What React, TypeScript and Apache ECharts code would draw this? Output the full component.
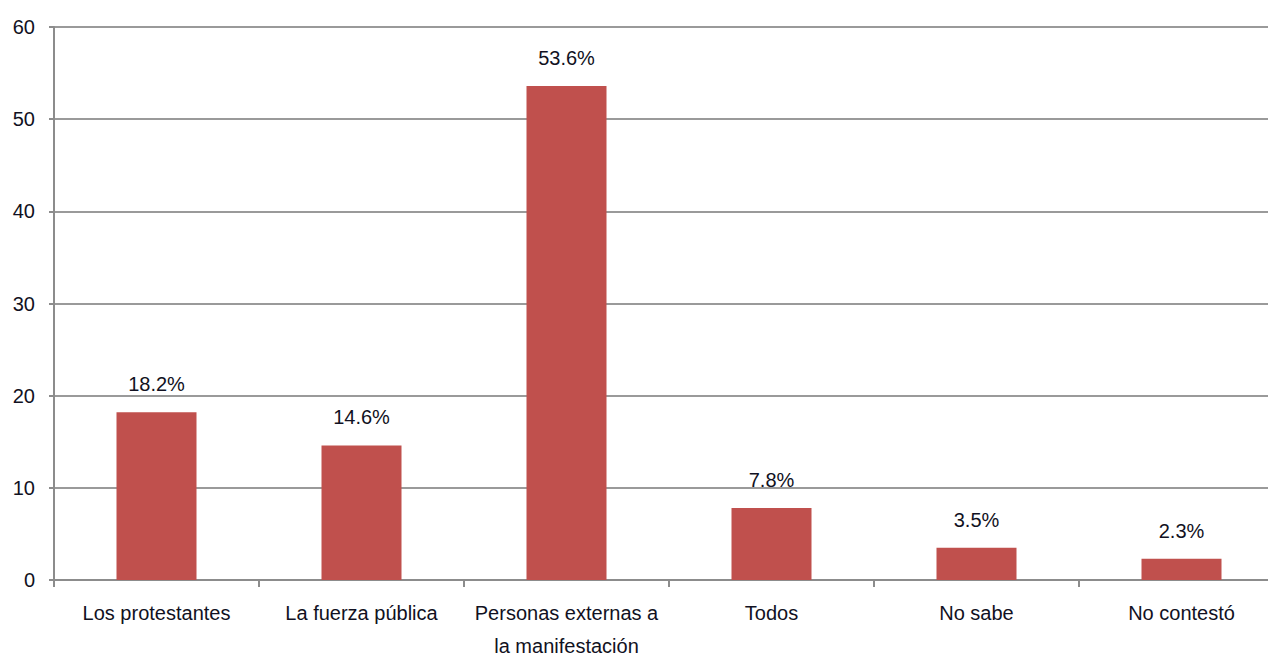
import React, { useEffect, useRef } from "react";
import * as echarts from "echarts";

const categories = [
  "Los protestantes",
  "La fuerza pública",
  "Personas externas a\nla manifestación",
  "Todos",
  "No sabe",
  "No contestó",
];
const values = [18.2, 14.6, 53.6, 7.8, 3.5, 2.3];
const yTicks = { min: 0, max: 60, interval: 10 };

const FONT = "'Liberation Sans Narrow', 'Arial Narrow', 'Liberation Sans', Arial, sans-serif";

export default function App() {
  const ref = useRef<HTMLDivElement>(null);
  useEffect(() => {
    document.body.style.margin = "0";
    document.body.style.overflow = "hidden";
    const chart = echarts.init(ref.current!, null, { renderer: "svg" });
    chart.setOption({
      animation: false,
      backgroundColor: "#ffffff",
      grid: {
        left: 54,
        right: -16,
        top: 27,
        bottom: 79,
        containLabel: false,
        outerBoundsMode: "none",
      },
      xAxis: {
        type: "category",
        data: categories,
        axisLine: { lineStyle: { color: "#8c8c8c", width: 2 } },
        axisTick: { show: true, length: 7, lineStyle: { color: "#8c8c8c", width: 2 } },
        axisLabel: {
          color: "#111122",
          fontSize: 20,
          fontFamily: FONT,
          margin: 16,
          lineHeight: 33,
          interval: 0,
        },
      },
      yAxis: {
        type: "value",
        min: yTicks.min,
        max: yTicks.max,
        interval: yTicks.interval,
        axisLine: { show: true, lineStyle: { color: "#8c8c8c", width: 2 } },
        axisTick: { show: true, length: 5, lineStyle: { color: "#8c8c8c", width: 2 } },
        axisLabel: { color: "#111122", fontSize: 20, fontFamily: FONT, margin: 19 },
        splitLine: { lineStyle: { color: "#9a9a9a", width: 2 } },
      },
      series: [
        {
          type: "bar",
          data: values,
          barWidth: 80,
          itemStyle: { color: "#C0504D" },
          label: {
            show: true,
            position: "top",
            distance: 18,
            formatter: (p: any) => p.value.toFixed(1) + "%",
            color: "#111122",
            fontSize: 20,
            fontFamily: FONT,
          },
        },
      ],
    });
    return () => chart.dispose();
  }, []);
  return (
    <div
      ref={ref}
      style={{ position: "fixed", left: 0, top: 0, width: 1268, height: 659 }}
    />
  );
}
